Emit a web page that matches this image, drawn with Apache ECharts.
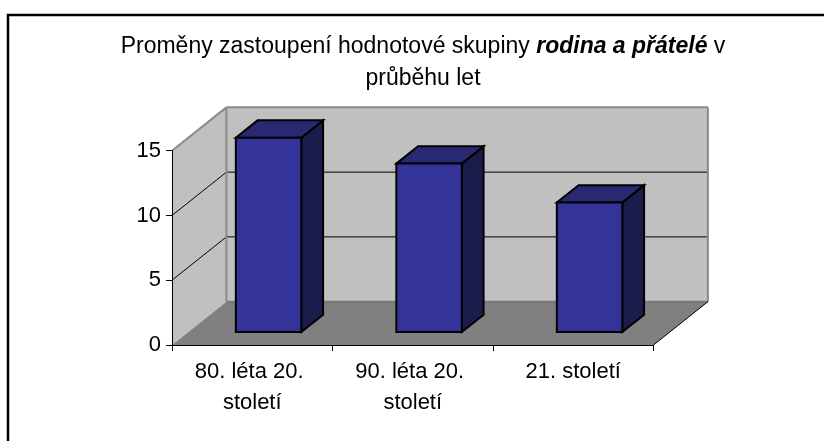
<!DOCTYPE html>
<html>
<head>
<meta charset="utf-8">
<script src="https://cdn.jsdelivr.net/npm/echarts@6/dist/echarts.min.js"></script>
<style>
html,body{margin:0;padding:0;background:#fff;}
#chart{width:824px;height:441px;}
</style>
</head>
<body>
<div id="chart"></div>
<script>
// ---- data ----
const categories = ['80. léta 20. století', '90. léta 20. století', '21. století'];
const values = [15, 13, 10];
const yTicks = [0, 5, 10, 15];
const titlePart1 = 'Proměny zastoupení hodnotové skupiny ';
const titleEmph = 'rodina a přátelé';
const titlePart2 = ' v';
const titleLine2 = 'průběhu let';

// ---- 3D look (relative to category band width) ----
const DEPTH_X = 0.339, DEPTH_Y = 0.27;
const BAR_W = 0.408, BAR_OFF = 0.3, BAR_DEPTH = 0.4;
const FONT = '"Liberation Sans", Arial, sans-serif';

const yMin = yTicks[0], yMax = yTicks[yTicks.length - 1];
const yStep = yTicks[1] - yTicks[0];

function line(p1, p2, color, w) {
  return { type: 'line', shape: { x1: p1[0], y1: p1[1], x2: p2[0], y2: p2[1] },
           style: { stroke: color, lineWidth: w } };
}
function poly(pts, fill, stroke, w) {
  return { type: 'polygon', shape: { points: pts },
           style: { fill: fill, stroke: stroke || null, lineWidth: w || 0, lineJoin: 'miter' } };
}

function renderWalls(params, api) {
  const cs = params.coordSys;
  const band = api.size([1, 0])[0];
  const dx = band * DEPTH_X, dy = -band * DEPTH_Y;
  const x0 = cs.x, x1 = cs.x + cs.width;
  const yb = api.coord([0, yMin])[1], yt = api.coord([0, yMax])[1];
  const ch = [];
  ch.push(poly([[x0, yb], [x0 + dx, yb + dy], [x0 + dx, yt + dy], [x0, yt]], '#c0c0c0'));
  ch.push(poly([[x0 + dx, yb + dy], [x1 + dx, yb + dy], [x1 + dx, yt + dy], [x0 + dx, yt + dy]], '#c0c0c0'));
  ch.push(poly([[x0, yb], [x1, yb], [x1 + dx, yb + dy], [x0 + dx, yb + dy]], '#808080'));
  yTicks.forEach(function (v) {
    if (v <= yMin || v >= yMax) return;
    const y = api.coord([0, v])[1];
    ch.push(line([x0 + dx, y + dy], [x1 + dx, y + dy], '#000', 1));
    ch.push(line([x0, y], [x0 + dx, y + dy], '#000', 1));
  });
  const g = '#8a8a8a';
  ch.push(line([x0, yt], [x0 + dx, yt + dy], g, 2));
  ch.push(line([x0 + dx, yt + dy], [x1 + dx, yt + dy], g, 2));
  ch.push(line([x1 + dx, yt + dy], [x1 + dx, yb + dy], g, 2));
  ch.push(line([x0 + dx, yt + dy], [x0 + dx, yb + dy], g, 2));
  ch.push(line([x0 + dx, yb + dy], [x1 + dx, yb + dy], '#777', 2));
  ch.push(line([x1, yb], [x1 + dx, yb + dy], '#000', 1));
  return { type: 'group', children: ch };
}

function renderBar(params, api) {
  const i = api.value(0), v = api.value(1);
  const band = api.size([1, 0])[0];
  const dx = band * DEPTH_X, dy = -band * DEPTH_Y;
  const base = api.coord([i, yMin]);
  const top = api.coord([i, v]);
  const w = band * BAR_W;
  const cx = base[0] + dx * BAR_OFF;
  const xl = cx - w / 2, xr = cx + w / 2;
  const yb = base[1] + dy * BAR_OFF, yt = top[1] + dy * BAR_OFF;
  const bx = dx * BAR_DEPTH, by = dy * BAR_DEPTH;
  return { type: 'group', children: [
    poly([[xr, yt], [xr + bx, yt + by], [xr + bx, yb + by], [xr, yb]], '#1b1b4c', '#000', 2),
    poly([[xl, yt], [xr, yt], [xr + bx, yt + by], [xl + bx, yt + by]], '#282873', '#000', 2),
    poly([[xl, yt], [xr, yt], [xr, yb], [xl, yb]], '#333399', '#000', 2)
  ] };
}

const chart = echarts.init(document.getElementById('chart'), null, { renderer: 'canvas' });
chart.setOption({
  animation: false,
  backgroundColor: '#fff',
  title: {
    left: 423,
    textAlign: 'center',
    top: 31,
    padding: 0,
    text: '{n|' + titlePart1 + '}{b|' + titleEmph + '}{n|' + titlePart2 + '}\n{n|' + titleLine2 + '}',
    textStyle: {
      fontWeight: 'normal',
      rich: {
        n: { fontSize: 23, fontFamily: FONT, color: '#000', lineHeight: 32, fontWeight: 'normal' },
        b: { fontSize: 23, fontFamily: FONT, color: '#000', lineHeight: 32, fontWeight: 'bold', fontStyle: 'italic' }
      }
    }
  },
  graphic: [{
    type: 'rect', silent: true, z: 100,
    shape: { x: 8, y: 15, width: 900, height: 600 },
    style: { fill: null, stroke: '#000', lineWidth: 2.5 }
  }],
  grid: { left: 172, right: 170.5, top: 150.7, bottom: 96, containLabel: false },
  xAxis: {
    type: 'category', data: categories, z: 5,
    axisLine: { lineStyle: { color: '#000', width: 1 } },
    axisTick: { show: true, length: 6, lineStyle: { color: '#000' } },
    axisLabel: { color: '#000', fontSize: 22, fontFamily: FONT, lineHeight: 31, margin: 11,
                 width: 140, overflow: 'break', interval: 0 },
    splitLine: { show: false }
  },
  yAxis: {
    type: 'value', min: yMin, max: yMax, interval: yStep, z: 5,
    axisLine: { show: true, lineStyle: { color: '#000', width: 1 } },
    axisTick: { show: true, length: 6, lineStyle: { color: '#000' } },
    axisLabel: { color: '#000', fontSize: 22, fontFamily: FONT, margin: 11 },
    splitLine: { show: false }
  },
  series: [
    { type: 'custom', name: 'walls', z: 1, silent: true, renderItem: renderWalls, data: [[0, 0]] },
    { type: 'custom', name: 'bars', z: 3, silent: true, renderItem: renderBar,
      data: values.map(function (v, i) { return [i, v]; }) }
  ]
});
</script>
</body>
</html>
